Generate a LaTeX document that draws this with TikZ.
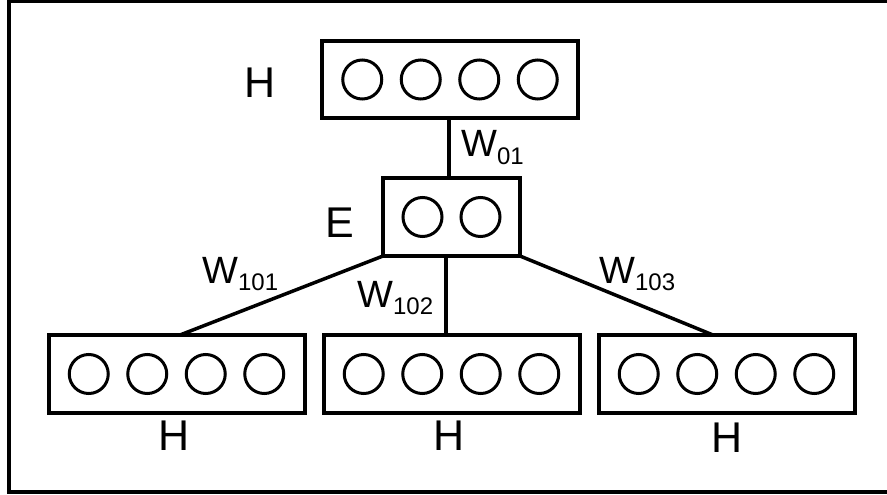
\documentclass[tikz,border=0pt]{standalone}
\usepackage{fontspec}
\setmainfont{Liberation Sans}
\newcommand{\bigtxt}{\fontsize{43}{50}\selectfont}
\newcommand{\wtxt}{\fontsize{38}{44}\selectfont}
\newcommand{\subtxt}{\fontsize{24}{28}\selectfont}
\newcommand{\Wsub}[1]{{\wtxt W}\raisebox{-7.5pt}{\subtxt #1}}
\begin{document}
\begin{tikzpicture}[x=1pt,y=-1pt,
  layerbox/.style={draw, line width=4pt, inner sep=0pt, outer sep=0pt},
  wide/.style={layerbox, minimum width=256pt, minimum height=77pt},
  narrow/.style={layerbox, minimum width=137pt, minimum height=78pt},
  unit/.style={draw, circle, line width=3pt, minimum size=39pt, inner sep=0pt},
  conn/.style={line width=3.5pt},
  lbl/.style={inner sep=0pt, anchor=base, font=\bigtxt},
  wlbl/.style={inner sep=0pt, anchor=base west}]
\useasboundingbox (0,0) rectangle (887,495);
\begin{scope}
\clip (0,0) rectangle (887,495);
\draw[line width=3.5pt] (9,1) rectangle (890,492);
\end{scope}
% boxes
\node[wide] (top) at (450,79.5) {};
\node[narrow] (E) at (451.5,217) {};
\node[wide, minimum height=78pt] (L) at (176.5,374) {};
\node[wide, minimum height=78pt] (M) at (451.5,374) {};
\node[wide, minimum height=78pt] (R) at (726.5,374) {};
% units
\foreach \b in {top,L,M,R}{
  \foreach \i/\dx in {1/-87.75,2/-29.25,3/29.25,4/87.75}{
    \node[unit] (\b u\i) at ([xshift=\dx pt]\b.center) {};
  }
}
\node[unit] (Eu1) at ([xshift=-29pt]E.center) {};
\node[unit] (Eu2) at ([xshift=29pt]E.center) {};
% connectors
\draw[conn] ([xshift=-1pt]top.south) -- ([xshift=-1pt]top.south |- E.north);
\draw[conn] ([xshift=-5.5pt]E.south) -- ([xshift=-5.5pt]E.south |- M.north);
\draw[conn] (E.south west) -- ([xshift=3.5pt]L.north);
\draw[conn] (E.south east) -- ([xshift=-13.5pt]R.north);
% labels
\node[lbl] (htop) at (260,98) {H};
\node[lbl] (hE) at (340,237) {E};
\node[lbl] (hL) at (174,450) {H};
\node[lbl] (hM) at (449,450) {H};
\node[lbl] (hR) at (727,452) {H};
\node[wlbl] (w01) at (461,157) {\Wsub{01}};
\node[wlbl] (w101) at (202,283) {\Wsub{101}};
\node[wlbl] (w102) at (357,307) {\Wsub{102}};
\node[wlbl] (w103) at (599,283) {\Wsub{103}};
\end{tikzpicture}
\end{document}
